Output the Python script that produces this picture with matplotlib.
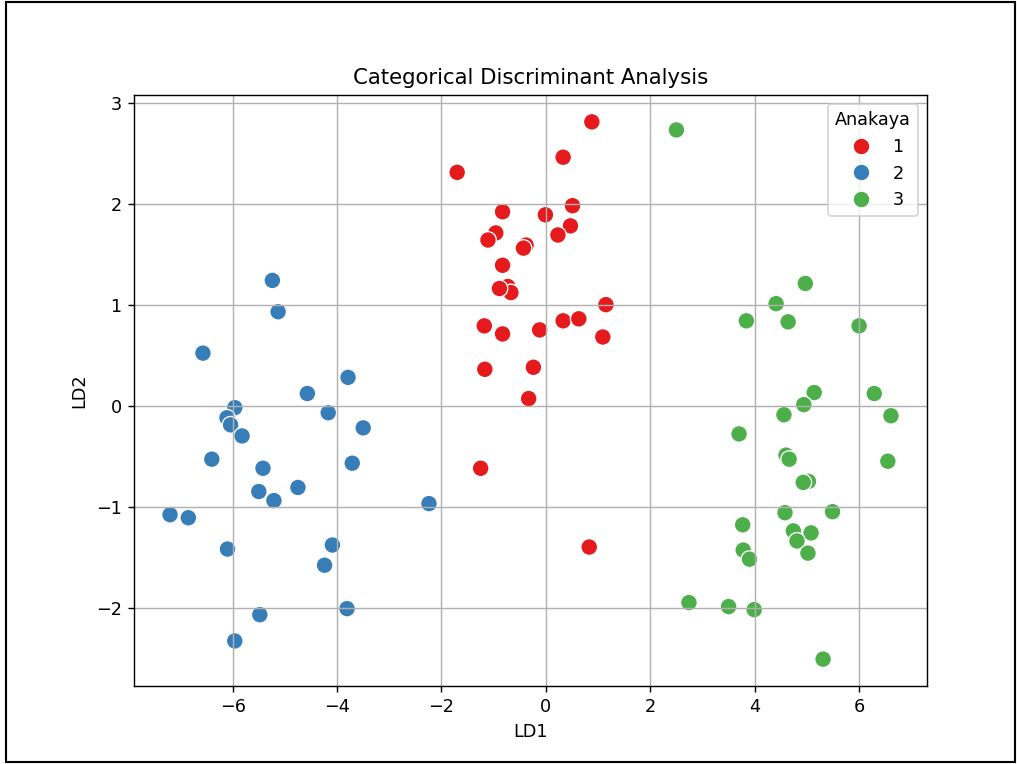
import numpy as np
import pandas as pd
import seaborn as sns
import matplotlib.pyplot as plt
from matplotlib.patches import Rectangle

# LD1 / LD2 scores per class
ld1_c1 = [0.88, 0.33, -1.70, -0.83, -0.01, 0.51, 0.47, 0.23, -0.96, -1.11,
          -0.38, -0.43, -0.83, -0.73, -0.67, -0.89, 1.15, -1.18, -0.83, -0.12,
          0.33, 0.63, 1.09, -1.17, -0.24, -0.33, -1.25, 0.83]
ld2_c1 = [2.81, 2.46, 2.31, 1.92, 1.89, 1.98, 1.78, 1.69, 1.71, 1.64,
          1.59, 1.56, 1.39, 1.18, 1.12, 1.16, 1.00, 0.79, 0.71, 0.75,
          0.84, 0.86, 0.68, 0.36, 0.38, 0.07, -0.62, -1.40]

ld1_c2 = [-5.24, -5.13, -6.57, -3.79, -4.57, -5.96, -4.17, -6.11, -6.04, -3.50,
          -5.82, -6.40, -3.71, -5.42, -4.75, -5.50, -5.21, -2.24, -7.20, -6.85,
          -6.10, -4.09, -4.24, -5.48, -3.81, -5.96]
ld2_c2 = [1.24, 0.93, 0.52, 0.28, 0.12, -0.02, -0.07, -0.12, -0.19, -0.22,
          -0.30, -0.53, -0.57, -0.62, -0.81, -0.85, -0.94, -0.97, -1.08, -1.11,
          -1.42, -1.38, -1.58, -2.07, -2.01, -2.33]

ld1_c3 = [2.50, 4.97, 4.41, 3.84, 4.64, 6.00, 5.14, 6.29, 4.94, 4.56,
          6.61, 3.70, 4.60, 4.66, 6.55, 5.03, 4.93, 4.58, 5.49, 3.77,
          4.74, 5.08, 4.81, 5.02, 3.78, 3.90, 2.74, 3.50, 3.99, 5.31]
ld2_c3 = [2.73, 1.21, 1.01, 0.84, 0.83, 0.79, 0.13, 0.12, 0.01, -0.09,
          -0.10, -0.28, -0.49, -0.53, -0.55, -0.75, -0.76, -1.06, -1.05, -1.18,
          -1.24, -1.26, -1.34, -1.46, -1.43, -1.52, -1.95, -1.99, -2.02, -2.51]

classes = ['1', '2', '3']

df = pd.DataFrame({
    'LD1': ld1_c1 + ld1_c2 + ld1_c3,
    'LD2': ld2_c1 + ld2_c2 + ld2_c3,
    'Anakaya': ['1'] * len(ld1_c1) + ['2'] * len(ld1_c2) + ['3'] * len(ld1_c3),
})

DPI = 1017 / 8
fig = plt.figure(figsize=(8, 764 / DPI), dpi=DPI)
ax = fig.add_axes([134 / 1017, 1 - 686 / 764, (927 - 134) / 1017, (686 - 95) / 764])

sns.scatterplot(data=df, x='LD1', y='LD2', hue='Anakaya', hue_order=classes,
                palette='Set1', s=90, ax=ax)
ax.set_title('Categorical Discriminant Analysis')
ax.set_xlabel('LD1')
ax.set_ylabel('LD2')
ax.grid(True)
ax.legend(title='Anakaya', loc='upper right')

# frame around the whole picture
fig.patches.append(Rectangle((0.006, 0.003), 0.992, 0.994, transform=fig.transFigure,
                             fill=False, edgecolor='black', linewidth=1.2))

fig.savefig('out.png', dpi=DPI)
